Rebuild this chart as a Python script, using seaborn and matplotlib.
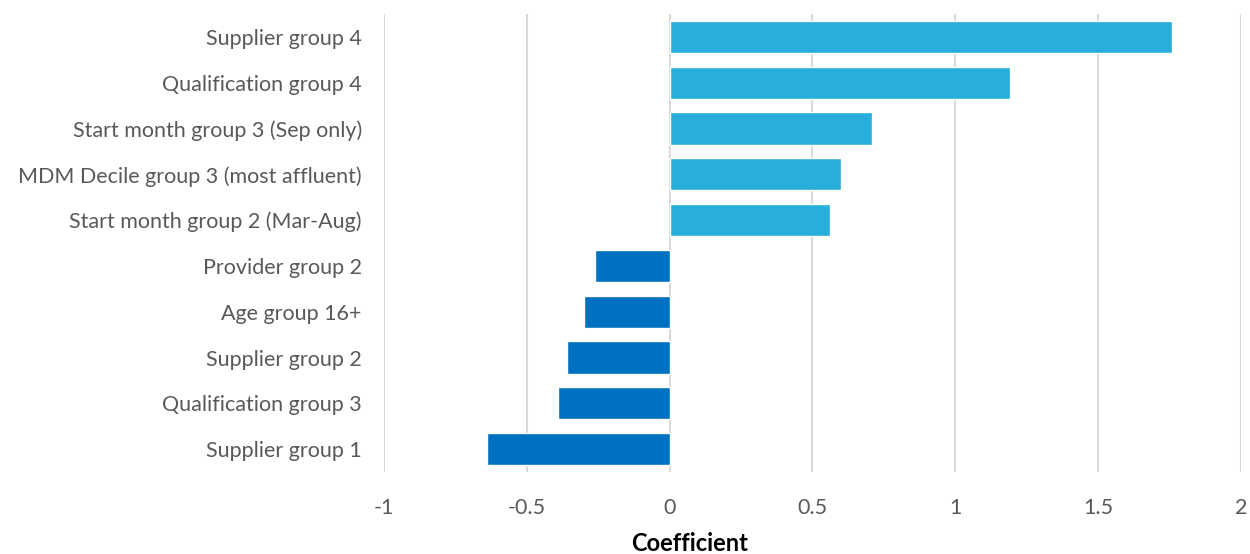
import pandas as pd
import seaborn as sns
import matplotlib.pyplot as plt

labels = [
    "Supplier group 4",
    "Qualification group 4",
    "Start month group 3 (Sep only)",
    "MDM Decile group 3 (most affluent)",
    "Start month group 2 (Mar-Aug)",
    "Provider group 2",
    "Age group 16+",
    "Supplier group 2",
    "Qualification group 3",
    "Supplier group 1",
]
coefficients = [1.76, 1.19, 0.71, 0.60, 0.56, -0.26, -0.30, -0.36, -0.39, -0.64]

df = pd.DataFrame({"Variable": labels, "Coefficient": coefficients})
df["Sign"] = ["positive" if c > 0 else "negative" for c in df["Coefficient"]]

sns.set_style("white")
plt.rcParams["font.family"] = ["Lato", "DejaVu Sans"]

fig = plt.figure(figsize=(12.5, 5.54), dpi=100)
ax = fig.add_axes([384 / 1250, 1 - 472 / 554, (1241 - 384) / 1250, (472 - 14) / 554])

sns.barplot(
    data=df, x="Coefficient", y="Variable", hue="Sign", orient="h",
    palette={"positive": "#27AEDB", "negative": "#0070C0"},
    width=0.7, dodge=False, legend=False, saturation=1, ax=ax,
)

ax.set_xlim(-1, 2)
ax.set_xticks([-1, -0.5, 0, 0.5, 1, 1.5, 2])
ax.set_xticklabels(["-1", "-0.5", "0", "0.5", "1", "1.5", "2"])
ax.xaxis.grid(True, color="#D9D9D9", linewidth=1.5)
ax.set_axisbelow(True)
for s in ax.spines.values():
    s.set_visible(False)

ax.tick_params(axis="y", length=0, pad=16, labelsize=15.5, labelcolor="#595959")
ax.tick_params(axis="x", length=0, pad=19, labelsize=15.5, labelcolor="#595959")
ax.set_ylabel("")
ax.set_xlabel("Coefficient", fontsize=17, fontweight="bold", color="black")
ax.xaxis.set_label_coords(0.357, -0.157)
ax.xaxis.label.set_va("center")

fig.savefig("out.png", dpi=100)
